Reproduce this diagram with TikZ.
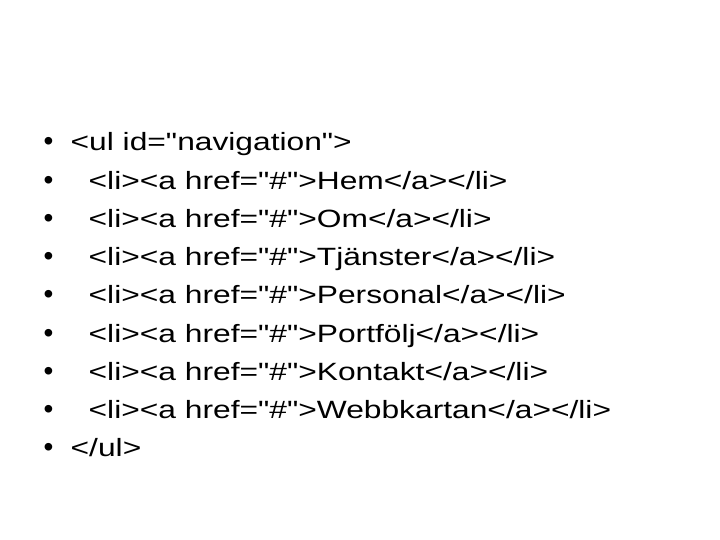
\documentclass[tikz,border=0pt]{standalone}
\usepackage{fontspec}
\setmainfont{Liberation Sans}
\newcommand{\dq}{\textquotedbl}
\newcommand{\wide}[1]{\scalebox{1.27}[1]{#1}}
\begin{document}
\begin{tikzpicture}[x=1pt,y=1pt,
  line/.style={anchor=base west,inner sep=0pt,font=\fontsize{25}{30}\selectfont},
  bul/.style={anchor=base west,inner sep=0pt,font=\fontsize{28}{34}\selectfont}]
\useasboundingbox[fill=white] (0,0) rectangle (720,540);
\foreach \i in {0,...,8} {
  \node[bul] (b\i) at (43.5,{540-151-38.25*\i}) {•};
}
\node[line] (l0) at (70.5,{540-151}) {\wide{<ul id=\dq navigation\dq>}};
\node[line] (l1) at (88.5,{540-151-38.25*1}) {\wide{<li><a href=\dq\#\dq>Hem</a></li>}};
\node[line] (l2) at (88.5,{540-151-38.25*2}) {\wide{<li><a href=\dq\#\dq>Om</a></li>}};
\node[line] (l3) at (88.5,{540-151-38.25*3}) {\wide{<li><a href=\dq\#\dq>Tjänster</a></li>}};
\node[line] (l4) at (88.5,{540-151-38.25*4}) {\wide{<li><a href=\dq\#\dq>Personal</a></li>}};
\node[line] (l5) at (88.5,{540-151-38.25*5}) {\wide{<li><a href=\dq\#\dq>Portfölj</a></li>}};
\node[line] (l6) at (88.5,{540-151-38.25*6}) {\wide{<li><a href=\dq\#\dq>Kontakt</a></li>}};
\node[line] (l7) at (88.5,{540-151-38.25*7}) {\wide{<li><a href=\dq\#\dq>Webbkartan</a></li>}};
\node[line] (l8) at (70.5,{540-151-38.25*8}) {\wide{</ul>}};
\end{tikzpicture}
\end{document}
